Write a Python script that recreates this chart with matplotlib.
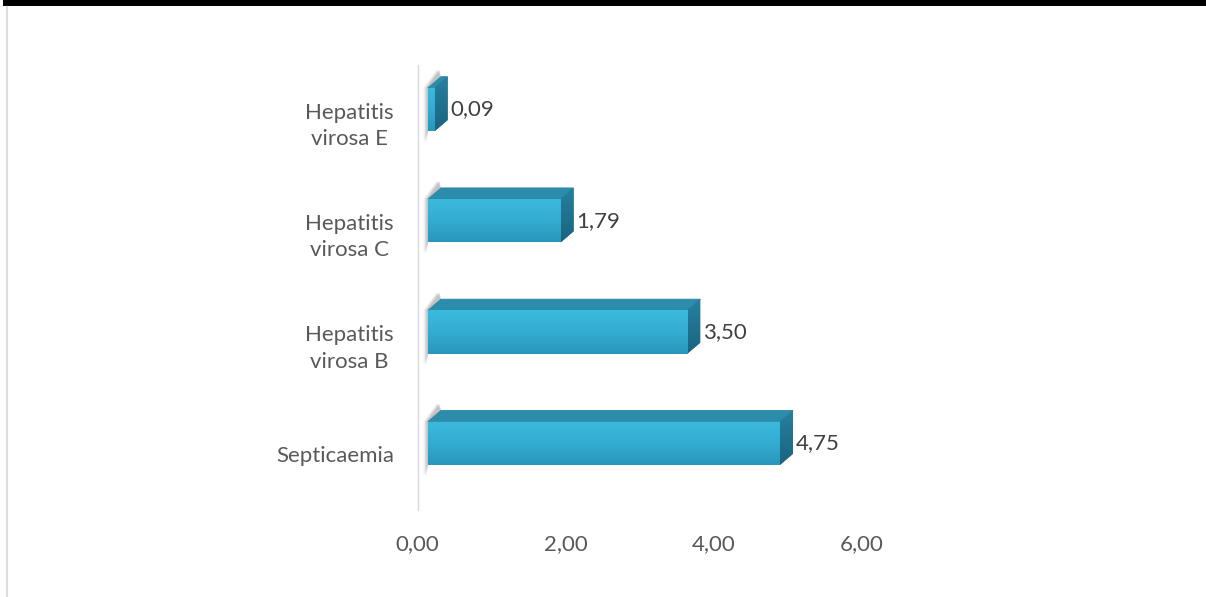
import numpy as np
import matplotlib
matplotlib.use("Agg")
import matplotlib.pyplot as plt
from matplotlib.patches import Polygon, Rectangle
from matplotlib.lines import Line2D
from matplotlib.colors import LinearSegmentedColormap

categories = ["Septicaemia", "Hepatitis\nvirosa B", "Hepatitis\nvirosa C", "Hepatitis\nvirosa E"]
values = [4.75, 3.50, 1.79, 0.09]
value_labels = ["4,75", "3,50", "1,79", "0,09"]
xticks = [0, 2, 4, 6]
xtick_labels = ["0,00", "2,00", "4,00", "6,00"]

# 3D look (in data units)
SHIFT_X, SHIFT_Y = 0.142, 0.10
BAR_H = 0.39
DEPTH_X, DEPTH_Y = 0.175, 0.10

FRONT_TOP, FRONT_BOT = "#3abade", "#2996bb"
TOP_C, SIDE_C = "#2b8cab", "#1f6d89"
TXT = "#595959"
FONT = "Lato"
FS = 16

W, H = 1206, 597
fig = plt.figure(figsize=(W / 100, H / 100), dpi=100)
ax = fig.add_axes([417.5 / W, 87 / H, 7 * 74.1 / W, 445 / H])

front_cmap = LinearSegmentedColormap.from_list("front", [FRONT_TOP, "#34acd2", FRONT_BOT])
side_cmap = LinearSegmentedColormap.from_list("side", ["#2680a0", "#1b6480"])
grad = np.linspace(0, 1, 64).reshape(-1, 1)

for i, v in enumerate(values):
    x0 = SHIFT_X
    x1 = v + SHIFT_X
    yb = i + SHIFT_Y - BAR_H / 2
    yt = i + SHIFT_Y + BAR_H / 2

    # soft shadow on the left (a few layers for a fade)
    for k, a in [(0.06, 0.12), (0.04, 0.18), (0.02, 0.25)]:
        sh = Polygon([(x0 - k, yb - 0.1), (x0 - k, yt), (x0 + DEPTH_X - k, yt + DEPTH_Y + 0.06),
                      (x0 + DEPTH_X, yt + DEPTH_Y), (x0, yt), (x0, yb)],
                     closed=True, facecolor="#7f7f7f", edgecolor="none", alpha=a, zorder=1)
        ax.add_patch(sh)

    # top face
    ax.add_patch(Polygon([(x0, yt), (x1, yt), (x1 + DEPTH_X, yt + DEPTH_Y), (x0 + DEPTH_X, yt + DEPTH_Y)],
                         closed=True, facecolor=TOP_C, edgecolor="#2a86a4", lw=0.6, zorder=2))
    # side face
    side = Polygon([(x1, yb), (x1 + DEPTH_X, yb + DEPTH_Y), (x1 + DEPTH_X, yt + DEPTH_Y), (x1, yt)],
                   closed=True, facecolor=SIDE_C, edgecolor="none", zorder=2)
    ax.add_patch(side)
    im = ax.imshow(grad, cmap=side_cmap, extent=[x1, x1 + DEPTH_X, yb, yt + DEPTH_Y],
                   aspect="auto", origin="upper", zorder=2.1)
    im.set_clip_path(side)

    # front face with vertical gradient
    front = Rectangle((x0, yb), v, BAR_H, facecolor=FRONT_TOP, edgecolor="none", zorder=3)
    ax.add_patch(front)
    im = ax.imshow(grad, cmap=front_cmap, extent=[x0, x1, yb, yt],
                   aspect="auto", origin="upper", zorder=3.1)
    im.set_clip_path(front)

    ax.text(x1 + DEPTH_X + 0.04, i + SHIFT_Y, value_labels[i], ha="left", va="center",
            fontsize=FS, color="#404040", family=FONT, zorder=5)

ax.set_xlim(0, 7)
ax.set_ylim(-0.5, 3.5)
ax.set_xticks(xticks)
ax.set_xticklabels(xtick_labels, fontsize=FS, color=TXT, family=FONT)
ax.set_yticks(range(len(categories)))
ax.set_yticklabels(categories, fontsize=FS, color=TXT, family=FONT, ma="center", linespacing=1.4)
ax.tick_params(axis="both", length=0)
ax.tick_params(axis="x", pad=17)
ax.tick_params(axis="y", pad=17)
for s in ["top", "right", "bottom"]:
    ax.spines[s].set_visible(False)
ax.spines["left"].set_color("#d9d9d9")
ax.spines["left"].set_linewidth(1)

# frame bits of the original screenshot
fig.add_artist(Rectangle((3 / W, 1 - 6 / H), 1, 6 / H, transform=fig.transFigure,
                         facecolor="black", edgecolor="none"))
fig.add_artist(Line2D([7 / W, 7 / W], [0, 1 - 7 / H], transform=fig.transFigure,
                      color="#dcdcdc", lw=1.6))

fig.savefig("out.png", dpi=100)
